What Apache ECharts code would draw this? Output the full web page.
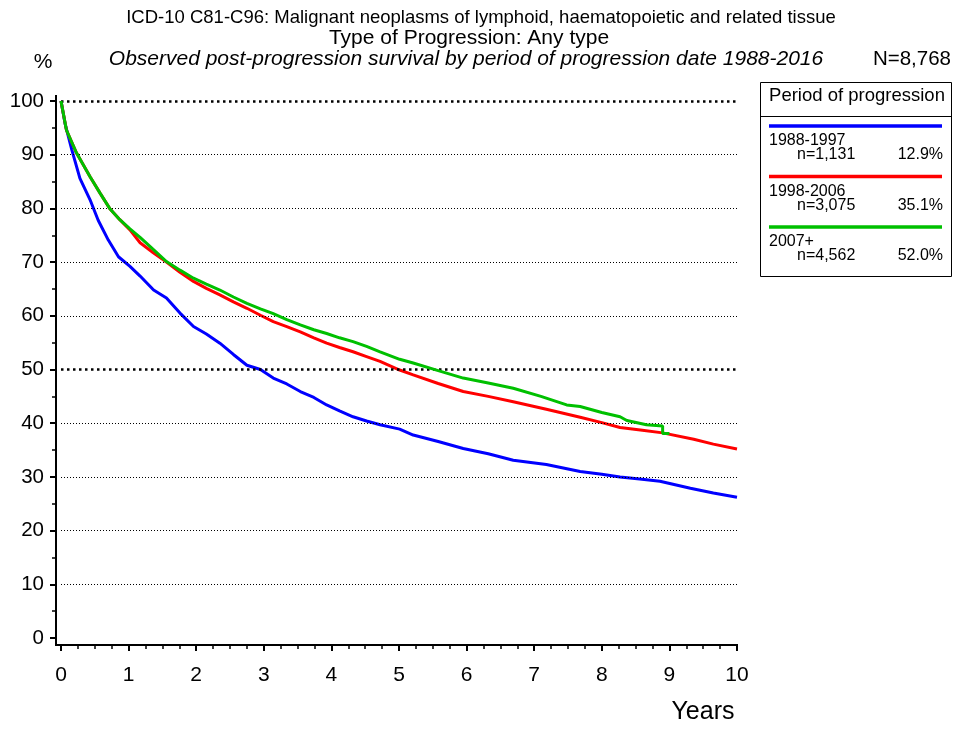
<!DOCTYPE html>
<html><head><meta charset="utf-8">
<script src="https://cdn.jsdelivr.net/npm/echarts@6/dist/echarts.min.js"></script>
<style>html,body{margin:0;padding:0;background:#fff}#c{width:953px;height:729px}</style>
</head><body><div id="c"></div>
<script>
// ---- data ----
const titleLines = [
  "ICD-10 C81-C96: Malignant neoplasms of lymphoid, haematopoietic and related tissue",
  "Type of Progression: Any type",
  "Observed post-progression survival by period of progression date 1988-2016"
];
const totalN = "N=8,768";
const legendTitle = "Period of progression";
const groupNames = ["1988-1997", "1998-2006", "2007+"];
const groupN = ["n=1,131", "n=3,075", "n=4,562"];
const groupPct = ["12.9%", "35.1%", "52.0%"];
const groupColors = ["#0000ff", "#ff0000", "#00c000"];
const xTicks = [0,1,2,3,4,5,6,7,8,9,10];
const yTicks = [0,10,20,30,40,50,60,70,80,90,100];
const thinGrid = [10,20,30,40,60,70,80,90];
const boldGrid = [50,100];

const survival1988 = [[0,100],[0.06,95.8],[0.16,90.9],[0.28,85.6],[0.43,81.6],[0.55,77.8],[0.70,74.1],[0.85,71.0],[1.02,69.2],[1.17,67.4],[1.37,64.8],[1.56,63.3],[1.76,60.5],[1.96,58.0],[2.15,56.6],[2.35,54.9],[2.55,52.8],[2.75,50.8],[2.95,50.0],[3.14,48.4],[3.34,47.3],[3.54,45.9],[3.74,44.8],[3.93,43.4],[4.12,42.3],[4.32,41.2],[4.52,40.4],[4.72,39.7],[5.01,38.9],[5.21,37.8],[5.58,36.6],[5.95,35.3],[6.32,34.3],[6.69,33.1],[7.18,32.3],[7.68,31.0],[8.0,30.5],[8.27,30.0],[8.56,29.6],[8.86,29.2],[9.31,27.9],[9.65,27.0],[10,26.2]];
const survival1998 = [[0,100],[0.08,94.6],[0.23,90.3],[0.43,85.9],[0.58,82.8],[0.72,80.0],[0.87,77.9],[1.02,76.0],[1.17,73.6],[1.36,71.8],[1.56,70.0],[1.76,68.1],[1.96,66.4],[2.15,65.1],[2.35,63.9],[2.55,62.6],[2.75,61.4],[2.95,60.1],[3.14,58.9],[3.34,58.0],[3.54,57.0],[3.74,55.9],[3.93,54.9],[4.12,54.1],[4.32,53.3],[4.52,52.4],[4.72,51.5],[5.01,49.9],[5.21,49.0],[5.58,47.4],[5.95,45.9],[6.32,45.0],[6.69,44.0],[7.18,42.6],[7.68,41.1],[8.0,40.1],[8.27,39.2],[8.6,38.7],[8.9,38.2],[9.36,37.0],[9.65,36.1],[10,35.2]];
const survival2007 = [[0,100],[0.08,94.6],[0.23,90.3],[0.43,85.9],[0.58,82.8],[0.72,80.0],[0.87,77.9],[1.02,76.2],[1.17,74.6],[1.36,72.4],[1.56,70.1],[1.76,68.5],[1.96,67.0],[2.15,65.9],[2.35,64.8],[2.55,63.5],[2.75,62.3],[2.95,61.3],[3.14,60.4],[3.34,59.3],[3.54,58.3],[3.74,57.4],[3.93,56.7],[4.12,55.9],[4.32,55.2],[4.52,54.3],[4.72,53.3],[5.01,51.9],[5.21,51.2],[5.58,49.8],[5.95,48.4],[6.32,47.5],[6.69,46.5],[7.1,45.0],[7.48,43.4],[7.68,43.1],[8.0,42.0],[8.27,41.2],[8.37,40.5],[8.66,39.7],[8.9,39.5],[8.9,38.1],[9.0,38.1]];
const seriesData = [survival1988, survival1998, survival2007];

// ---- chart ----
const FONT = "Liberation Sans, Arial, sans-serif";
const chart = echarts.init(document.getElementById('c'), null, {renderer:'canvas'});

const series = [{
  type:'line', data:[], silent:true, z:1,
  markLine:{silent:true, symbol:['none','none'], label:{show:false},
    data: thinGrid.map(v=>({yAxis:v, lineStyle:{color:'#000', width:1, type:[1,2]}}))
      .concat(boldGrid.map(v=>({yAxis:v, lineStyle:{color:'#000', width:2.5, type:[2.5,3.5]}})))
  }
}];
seriesData.forEach((d,i)=>{
  series.push({type:'line', name:groupNames[i], data:d, showSymbol:false, silent:true, z:3+i,
    lineStyle:{color:groupColors[i], width:3}, itemStyle:{color:groupColors[i]}});
});

const gfx = [];
function txt(x,y,text,size,align,italic){
  gfx.push({type:'text', x:x, y:y, silent:true, style:{text:text, font:(italic?'italic ':'')+size+'px '+FONT, fill:'#000', textAlign:align||'left', textVerticalAlign:'middle'}});
}
txt(481,18,titleLines[0],18.5,'center');
txt(469,38,titleLines[1],21,'center');
txt(466,59,titleLines[2],21,'center',true);
txt(951,59,totalN,20.5,'right');
txt(43,62,"%",21,'center');
txt(703,712,"Years",25,'center');
// axis lines (frame)
gfx.push({type:'line', shape:{x1:56,y1:95,x2:56,y2:646}, style:{stroke:'#000', lineWidth:2}, silent:true});
gfx.push({type:'line', shape:{x1:55,y1:645,x2:738,y2:645}, style:{stroke:'#000', lineWidth:2}, silent:true});
// legend box
gfx.push({type:'rect', shape:{x:760.5,y:82.5,width:191,height:194}, style:{fill:'none', stroke:'#000', lineWidth:1}, silent:true});
gfx.push({type:'line', shape:{x1:760,y1:116.5,x2:952,y2:116.5}, style:{stroke:'#000', lineWidth:1}, silent:true});
txt(857,96,legendTitle,18.5,'center');
groupNames.forEach((g,i)=>{
  const y0 = 126 + i*50.5;
  gfx.push({type:'line', shape:{x1:769,y1:y0,x2:942,y2:y0}, style:{stroke:groupColors[i], lineWidth:3.5}, silent:true});
  txt(769,y0+15,g,16,'left');
  txt(797,y0+29,groupN[i],16,'left');
  txt(943,y0+29,groupPct[i],16,'right');
});

chart.setOption({
  animation:false,
  grid:{left:61, right:216, top:101, bottom:91, containLabel:false},
  xAxis:{type:'value', min:0, max:10, interval:1, offset:7,
    axisLine:{show:false, onZero:false},
    axisTick:{show:true, length:6, lineStyle:{color:'#000', width:2}},
    minorTick:{show:true, splitNumber:4, length:4, lineStyle:{color:'#000', width:1.5}},
    axisLabel:{fontSize:21, color:'#000', fontFamily:FONT, margin:20,
      formatter:v=>xTicks.includes(v)?String(v):''},
    splitLine:{show:false}},
  yAxis:{type:'value', min:0, max:100, interval:10, offset:5,
    axisLine:{show:false, onZero:false},
    axisTick:{show:true, length:6, lineStyle:{color:'#000', width:2}},
    minorTick:{show:true, splitNumber:2, length:4, lineStyle:{color:'#000', width:1.5}},
    axisLabel:{fontSize:20.5, color:'#000', fontFamily:FONT, margin:12, padding:[10,0,0,0],
      formatter:v=>yTicks.includes(v)?String(v):''},
    splitLine:{show:false}},
  series:series,
  graphic:gfx
});
</script></body></html>
